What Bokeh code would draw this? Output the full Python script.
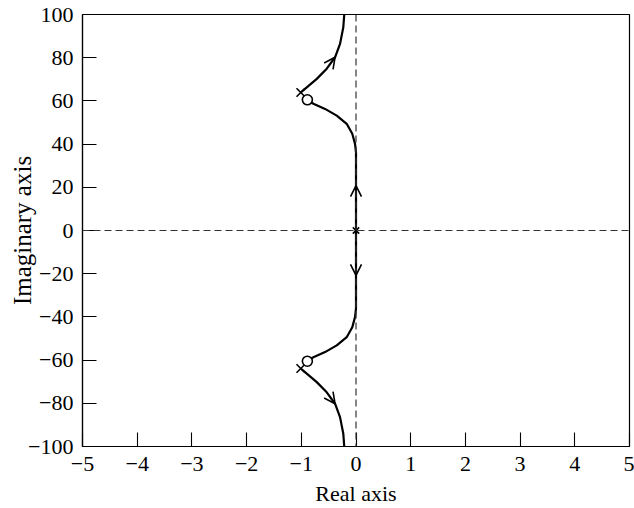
from bokeh.plotting import figure
from bokeh.models import Span, Arrow, OpenHead, FixedTicker
from bokeh.embed import file_html
from bokeh.resources import INLINE

# Open-loop poles and zeros
pole_re = [0.0, -1.01, -1.01]
pole_im = [0.0, 63.9, -63.9]
zero_re = [-0.889, -0.889]
zero_im = [60.5, -60.5]

# Branches leaving the complex poles toward the asymptotes (upper half)
br_pole_re = [-1.01, -0.90, -0.717, -0.535, -0.383, -0.292, -0.232, -0.215]
br_pole_im = [63.9, 66.3, 70.2, 74.9, 80.2, 86.4, 94.1, 100.0]

# Branches from the origin up the imaginary axis, bending into the zeros (upper half)
br_zero_re = [0.0, 0.0, -0.018, -0.068, -0.170, -0.352, -0.566, -0.779, -0.889]
br_zero_im = [0.0, 36.1, 40.1, 44.8, 49.4, 53.2, 56.3, 58.7, 60.5]

# Arrow tips along the imaginary axis
axis_arrow_im = [20.8, -20.8]

x_ticks = [-5, -4, -3, -2, -1, 0, 1, 2, 3, 4, 5]
y_ticks = [-100, -80, -60, -40, -20, 0, 20, 40, 60, 80, 100]

FONT = "Liberation Serif"

p = figure(
    frame_width=547, frame_height=432,
    x_range=(-5, 5), y_range=(-100, 100),
    output_backend="svg", toolbar_location=None,
    min_border_left=82, min_border_right=5,
    min_border_top=14, min_border_bottom=62,
    background_fill_color="white", border_fill_color="white",
)
p.grid.visible = False
p.outline_line_color = "black"
p.outline_line_width = 1.2

def fmt(v):
    return ("\u2212" + str(abs(v))) if v < 0 else str(v)

for ax, ticks, label in ((p.xaxis[0], x_ticks, "Real axis"),
                         (p.yaxis[0], y_ticks, "Imaginary axis")):
    ax.ticker = FixedTicker(ticks=ticks)
    ax.major_label_overrides = {t: fmt(t) for t in ticks}
    ax.axis_label = label
    ax.axis_label_text_font = FONT
    ax.axis_label_text_font_style = "normal"
    ax.axis_label_text_color = "black"
    ax.major_label_text_font = FONT
    ax.major_label_text_font_size = "22px"
    ax.major_label_text_color = "black"
    ax.major_tick_in = 14
    ax.major_tick_out = 0
    ax.minor_tick_in = 0
    ax.minor_tick_out = 0
    ax.axis_line_color = "black"
    ax.axis_line_width = 1.2
    ax.major_tick_line_color = "black"
    ax.major_tick_line_width = 1.1

p.xaxis.axis_label_text_font_size = "22px"
p.yaxis.axis_label_text_font_size = "25px"
p.xaxis.major_label_standoff = 10
p.xaxis.axis_label_standoff = 7
p.yaxis.major_label_standoff = 9
p.yaxis.axis_label_standoff = -11

# Dashed reference axes
for dim in ("width", "height"):
    p.add_layout(Span(location=0, dimension=dim, line_color="#333333",
                      line_width=1.2, line_dash="7 4"))

# Locus branches (upper half and its conjugate)
for re, im in ((br_pole_re, br_pole_im), (br_zero_re, br_zero_im)):
    p.line(re, im, line_color="black", line_width=2.2)
    p.line(re, [-v for v in im], line_color="black", line_width=2.2)

# Direction arrows along the branches (heads only)
def add_arrow(x0, y0, x1, y1):
    p.add_layout(Arrow(end=OpenHead(size=11, line_width=1.6, line_color="black"),
                       x_start=x0, y_start=y0, x_end=x1, y_end=y1,
                       line_alpha=0))

i = 4
add_arrow(br_pole_re[i - 1], br_pole_im[i - 1], br_pole_re[i], br_pole_im[i])
add_arrow(br_pole_re[i - 1], -br_pole_im[i - 1], br_pole_re[i], -br_pole_im[i])
for tip in axis_arrow_im:
    add_arrow(0, 0, 0, tip)

# Poles (x) and zeros (o)
p.scatter(pole_re[1:], pole_im[1:], marker="x", size=12, line_color="black", line_width=1.6)
p.scatter(pole_re[:1], pole_im[:1], marker="x", size=9, line_color="black", line_width=1.6)
p.scatter(zero_re, zero_im, marker="circle", size=10, fill_color="white",
          line_color="black", line_width=1.6)

open("out.html", "w").write(file_html(p, INLINE))
